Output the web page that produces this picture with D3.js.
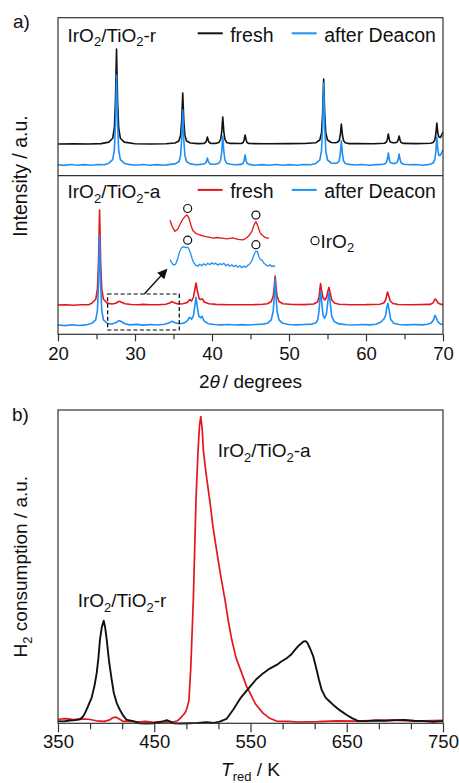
<!DOCTYPE html>
<html lang="en">
<head>
  <meta charset="UTF-8">
  <title>XRD and TPR of IrO2/TiO2</title>
  <style>
    body, html {
      margin: 0;
      padding: 0;
      background-color: #fff;
    }
    #svg text {
      font-family: "Liberation Sans", Arial, Helvetica, sans-serif;
      fill: #111;
    }
  </style>
</head>
<body>
  <svg id="svg" width="459" height="783"></svg>
  <script src="https://d3js.org/d3.v7.min.js"></script>
  <script>
    // XRD, rutile-supported catalyst: [2theta, intensity]
    const rFresh = [
      [20,0],[22,0.3],[24,0],[25.6,0.4],[26.6,1.9],[27.1,5.7],[27.32,16],[27.46,43],[27.6,95],[27.74,43],[27.88,16],[28.1,5.7],[28.6,1.9],
      [30,0.3],[32,0],[34,0.3],[35.2,1],[35.7,3],[35.92,8.7],[36.06,23],[36.2,51],[36.34,23],[36.48,8.7],[36.7,3],[37.2,1],
      [38.2,0.4],[38.9,0.5],[39.15,1.5],[39.27,3.2],[39.4,7],[39.53,3.2],[39.65,1.5],[39.9,0.5],
      [40.4,0.6],[40.9,1.6],[41.12,4.6],[41.26,12],[41.4,27],[41.54,12],[41.68,4.6],[41.9,1.6],[42.4,0.6],
      [43.8,0.5],[44.05,1.5],[44.17,4],[44.3,9],[44.43,4],[44.55,1.5],[44.8,0.5],
      [47,0.2],[50,0.4],[52,0.5],[53.5,1.3],[54.0,4],[54.22,11],[54.36,29],[54.5,65],[54.64,29],[54.78,11],[55.0,4],[55.5,1.5],
      [56.0,1.2],[56.3,1.8],[56.52,3.4],[56.66,9],[56.8,20],[56.94,9],[57.08,3.4],[57.3,1.2],[57.8,0.4],
      [59,0.5],[61,0.3],[62.4,0.8],[62.65,2],[62.77,4.5],[62.9,10],[63.03,4.5],[63.15,2],[63.5,1.2],
      [63.8,1.2],[64.05,2],[64.17,3.8],[64.3,8],[64.43,3.8],[64.55,1.6],[64.9,0.6],
      [66.5,0.4],[68.4,0.8],[68.7,1.5],[68.93,3.8],[69.06,9.5],[69.2,21],[69.34,10],[69.48,7],[69.65,6.5],[69.8,8.5],[70,12]
    ]
    const rDeacon = [
      [20,0.2],[20.8,-0.4],[21.6,0.5],[22.5,-0.2],[23.4,0.4],[24.3,-0.3],[25.2,0.5],[26.0,0.3],[26.6,1.8],[27.1,5.4],[27.32,15],[27.46,41],[27.6,90],[27.74,41],[27.88,15],[28.1,5.4],[28.6,1.8],
      [29.2,0.6],[30.1,-0.2],[31.0,0.5],[31.9,-0.3],[32.8,0.4],[33.7,-0.2],[34.6,0.6],[35.2,1.1],[35.7,3.3],[35.92,9.5],[36.06,25],[36.2,55],[36.34,25],[36.48,9.5],[36.7,3.3],[37.2,1.1],
      [37.9,0.3],[38.5,0.6],[38.9,1],[39.15,1.8],[39.27,3.4],[39.4,7],[39.53,3.4],[39.65,1.8],[39.9,0.8],
      [40.4,0.8],[40.9,1.8],[41.12,5],[41.26,13],[41.4,29],[41.54,13],[41.68,5],[41.9,1.8],[42.4,0.7],
      [43.0,0.2],[43.8,0.6],[44.05,1.8],[44.17,4.5],[44.3,10],[44.43,4.5],[44.55,1.8],[44.8,0.6],
      [45.6,-0.2],[46.5,0.4],[47.4,-0.3],[48.3,0.5],[49.2,-0.2],[50.1,0.4],[51.0,-0.3],[51.9,0.5],[52.8,0.2],
      [53.5,1.6],[54.0,5],[54.22,14],[54.36,37],[54.5,82],[54.64,37],[54.78,14],[55.0,5],[55.5,2],
      [56.0,1.6],[56.3,2.3],[56.52,4.2],[56.66,11],[56.8,24],[56.94,11],[57.08,4.2],[57.3,1.6],[57.8,0.6],
      [58.6,0],[59.5,0.5],[60.4,-0.2],[61.3,0.4],[62.0,0.6],[62.4,1],[62.65,2.4],[62.77,5.4],[62.9,12],[63.03,5.4],[63.15,2.4],[63.5,1.5],
      [63.8,1.6],[64.05,2.7],[64.17,5.2],[64.3,11],[64.43,5.2],[64.55,2.2],[64.9,0.8],
      [65.6,0.2],[66.5,0.5],[67.4,-0.2],[68.0,0.4],[68.4,1],[68.7,2],[68.93,5],[69.06,12.5],[69.2,28],[69.34,14],[69.48,9.5],[69.65,9.5],[69.8,12],[70,15]
    ]

    // XRD, anatase-supported catalyst
    const aFresh = [
      [20,0],[21,0.3],[22,-0.2],[23,0.3],[24,0.2],[24.4,1.9],[24.9,5.7],[25.12,16],[25.26,43],[25.4,95],[25.54,43],[25.68,16],[25.9,5.7],[26.4,1.9],
      [27.0,1],[27.5,1.8],[27.8,3.2],[28.0,3.8],[28.25,2.8],[28.7,1.2],[29.5,0.5],[30.5,0.3],[31.0,0.6],[32,0.2],[33,0.3],
      [34.0,0.8],[34.5,2],[34.8,3.4],[35.1,2.2],[35.6,1],[36.2,1.2],[36.8,2.5],[37.1,5.5],[37.35,4],[37.6,8],[37.78,16],[37.93,22],[38.1,14],[38.35,6],[38.55,5.5],[38.75,6.2],[39.0,3],[39.6,1.2],
      [40.5,0.6],[42,0.3],[44,0.2],[45.5,0.4],[46.6,0.8],[47.2,1.2],[47.7,3.5],[47.95,9],[48.08,18],[48.2,29],[48.32,18],[48.45,9],[48.7,3.5],[49.2,1.2],
      [50.5,0.5],[52,0.4],[53.2,1],[53.7,3],[53.9,8],[54.0,15],[54.1,21.5],[54.22,15],[54.4,7.5],[54.65,5],[54.9,8],[55.05,14],[55.2,17.7],[55.35,12],[55.55,5],[55.9,2],[56.5,0.8],
      [58,0.3],[60,0.4],[61.8,0.8],[62.3,2],[62.55,5],[62.7,10],[62.8,13],[62.95,9],[63.15,4],[63.5,1.5],[64.2,0.5],
      [66,0.3],[68.3,0.6],[68.7,2],[68.9,5],[69.0,6],[69.15,4.5],[69.4,1.8],[69.8,0.6],[70,0.4]
    ]
    const aDeacon = [
      [20,0.3],[20.9,-0.3],[21.8,0.5],[22.7,-0.2],[23.6,0.4],[24.4,2],[24.9,5.4],[25.12,15],[25.26,41],[25.4,90],[25.54,41],[25.68,15],[25.9,5.4],[26.4,1.8],
      [27.0,1.3],[27.5,2.5],[27.8,4.2],[28.0,4.6],[28.25,3.5],[28.7,1.5],[29.3,0.4],[30.2,0.9],[31.1,0.2],[32.0,0.8],[32.9,0.3],[33.8,1],
      [34.4,2.2],[34.8,4],[35.2,2.5],[35.7,1.5],[36.3,2],[36.8,4.5],[37.1,8],[37.35,6],[37.6,10],[37.78,20],[37.93,28],[38.08,19],[38.3,9],[38.55,7.5],[38.72,9],[38.95,4.5],[39.5,1.6],
      [40.3,0.8],[41.2,0.4],[42.1,0.8],[43.0,0.3],[43.9,0.7],[44.8,0.3],[45.7,0.8],[46.6,1.2],[47.2,2],[47.7,5.5],[47.95,14],[48.08,28],[48.2,46],[48.32,28],[48.45,14],[48.7,5.5],[49.2,2],
      [50,0.8],[51,0.4],[52,0.8],[53.0,1.2],[53.5,2.5],[53.75,6],[53.92,16],[54.02,26],[54.12,34],[54.24,24],[54.42,10],[54.62,7],[54.85,11],[55.02,22],[55.2,33],[55.35,23],[55.55,9],[55.9,3.5],[56.5,1.4],
      [57.5,0.6],[58.5,0.3],[59.5,0.8],[60.5,0.4],[61.3,1],[61.9,3],[62.3,6],[62.55,10],[62.7,18],[62.85,22],[63.0,15],[63.2,6],[63.6,2],[64.3,0.8],
      [65.3,0.4],[66.3,0.8],[67.3,0.4],[68.0,1],[68.5,2.5],[68.8,6],[68.95,10],[69.1,8],[69.35,3.5],[69.7,1.2],[70,0.8]
    ]

    // magnified 26-37 deg window of the anatase patterns
    const zoomFresh = [
      [26.24,18],[26.45,12],[26.74,7],[27.0,9],[27.25,14],[27.5,19],[27.75,22],[27.92,23.3],[28.1,21],[28.3,14],[28.5,8],[28.8,5],
      [29.2,3.3],[29.7,2],[30.2,1],[30.6,0.2],[30.9,0.8],[31.4,0.2],[31.9,-0.5],[32.5,0.5],[33.0,-1],[33.5,-1.5],[33.8,0],
      [34.1,2.5],[34.4,7],[34.6,13],[34.8,16.7],[35.0,12],[35.2,6],[35.4,3.3],[35.7,1],[36.1,0]
    ]
    const zoomDeacon = [
      [26.24,7.3],[26.4,4],[26.6,1.5],[26.8,2.5],[27.0,8],[27.2,15],[27.4,19],[27.6,20],[27.8,19],[28.0,19.5],[28.15,17],[28.3,13],[28.45,8],[28.6,4],[28.8,1.5],
      [29.0,0.5],[29.2,2.5],[29.4,1],[29.6,3],[29.8,1.5],[30.0,3.5],[30.2,2],[30.4,4],[30.6,2.5],[30.8,3.5],[31.0,1.5],[31.2,3],[31.4,2],[31.6,3.5],[31.8,1],
      [32.0,2.5],[32.2,0.5],[32.4,2],[32.6,0],[32.8,1.5],[33.0,-0.5],[33.2,1],[33.4,-1],[33.6,0.5],[33.8,-0.5],[34.0,1.5],[34.2,3],[34.4,6],[34.6,12],
      [34.8,15.5],[34.95,15],[35.1,10],[35.25,7],[35.4,6.5],[35.6,3.5],[35.8,2],[36.0,0.5],[36.2,2],[36.4,0],[36.6,1],[36.7,0]
    ]
    const iro2Peaks = [28.0, 34.8]

    // H2-TPR: [T / K, signal]
    const tprA = [
      [350,0.9],[358,1.1],[366,0.8],[374,1.0],[382,0.9],[390,0.4],[398,0.2],[403,0.6],[407,1.4],[410,1.6],[414,0.9],[418,0.2],
      [425,0.3],[433,0],[441,0.2],[449,-0.1],[457,0.1],[465,0],[470,0],[474,0.4],[477,1.2],[480,2.3],[482,3],[484,4.5],[486,7],[488,18],
      [490.6,40],[493.4,73],[495.5,89],[497,97],[498.3,100],[499.8,96],[501,89],[504,81],[507.9,72],[511,64],[514.9,56],[519,48],[523.5,40],
      [527,33],[530.5,27],[535,21],[540.9,16],[546,11.6],[549.5,9.5],[555,6],[563,2.9],[570,1.2],[577,0.3],[590,0.2],[600,0],
      [620,0.1],[640,0.4],[660,0.3],[680,0.5],[700,0.6],[720,0.3],[750,0.5]
    ]
    const tprR = [
      [350,0.3],[356,0.2],[362,0.5],[368,0.6],[373,0.9],[376,1.8],[378,2.9],[381,5],[385,8],[388,12],[390.2,16],[392,21],[393.6,27],[395.5,31],
      [397.5,33.2],[399,31],[400.6,27],[403,20],[405.8,13.8],[408,9.5],[411,6.2],[414.4,3.9],[418,2],[421,0.8],[428,0.3],[435,-0.4],[442,-0.5],
      [449,-0.4],[455,-0.1],[460,0.3],[463,0.6],[466,0.2],[470,-0.4],[478,-0.5],[487,-0.4],[495,-0.3],[504.5,-0.1],[512,-0.3],[518,0.1],
      [525,1],[532,4],[540,8],[549.5,11.6],[556,14],[563.3,16],[570,17.5],[577.2,18.7],[582,19.8],[587.6,20.9],[592,22],[596.2,23.6],[600,25],
      [604.8,26.3],[607,26.5],[609,26],[612,24],[615.3,21.4],[618,18],[621,14],[624,10.5],[628,8],[632,6.8],[636,5.6],[643,3.8],[650,2.3],
      [656,1.2],[662,0.3],[670,0.3],[680,0.5],[690,0.4],[700,0.6],[710,0.7],[720,0.4],[730,0.3],[740,0.1],[750,0.3]
    ]

    const xTicksA = [20, 30, 40, 50, 60, 70]
    const xTicksB = [350, 450, 550, 650, 750]

    const black = '#111'
    const blue = '#1e8ff5'
    const red = '#e3171d'
    const frameColor = '#333'

    const svg = d3.select('#svg')

    // ---------- panel a ----------
    const left = 58, right = 443
    const aTop = 17.7, aMid = 175.7, aBot = 334.3
    const xA = d3.scaleLinear().domain([20, 70]).range([left, right])
    const yUpper = d3.scaleLinear().domain([0, aMid - aTop]).range([aMid, aTop])
    const yLower = d3.scaleLinear().domain([0, aBot - aMid]).range([aBot, aMid])

    const lineA = (y, off) => d3.line().x(d => xA(d[0])).y(d => y(d[1] + off))

    function trace(data, gen, color, w) {
      svg.append('path')
        .datum(data)
        .attr('d', gen)
        .attr('fill', 'none')
        .attr('stroke', color)
        .attr('stroke-width', w || 1.6)
        .attr('stroke-linejoin', 'round')
    }

    trace(rFresh, lineA(yUpper, 31.7), black)
    trace(rDeacon, lineA(yUpper, 10.7), blue)
    trace(aFresh, lineA(yLower, 29.3), red)
    trace(aDeacon, lineA(yLower, 9), blue)

    // inset with the magnified IrO2 reflections
    const xIn = d3.scaleLinear().domain([26.24, 36.7]).range([170, 275])
    const lineIn = off => d3.line().x(d => xIn(d[0])).y(d => yLower(d[1] + off))
    trace(zoomFresh, lineIn(96), red, 1.3)
    trace(zoomDeacon, lineIn(67.6), blue, 1.3)

    const markerY = (data, pos, off) => {
      const near = data.filter(d => Math.abs(d[0] - pos) < 0.45)
      return yLower(d3.max(near, d => d[1]) + off) - 6.5
    }
    ;[[zoomFresh, 96], [zoomDeacon, 67.6]].forEach(([data, off]) => {
      svg.selectAll(null)
        .data(iro2Peaks)
        .enter()
        .append('circle')
        .attr('cx', d => xIn(d))
        .attr('cy', d => markerY(data, d, off))
        .attr('r', 4)
        .attr('fill', '#fff')
        .attr('stroke', black)
        .attr('stroke-width', 1.2)
    })

    // dashed box over the magnified range and the arrow to the inset
    svg.append('rect')
      .attr('x', xA(26.45))
      .attr('y', 294)
      .attr('width', xA(35.75) - xA(26.45))
      .attr('height', 36)
      .attr('fill', 'none')
      .attr('stroke', '#000')
      .attr('stroke-width', 1.2)
      .attr('stroke-dasharray', '4,2.5')

    svg.append('defs').append('marker')
      .attr('id', 'head')
      .attr('viewBox', '0 0 10 10')
      .attr('refX', 9)
      .attr('refY', 5)
      .attr('markerWidth', 7)
      .attr('markerHeight', 7)
      .attr('orient', 'auto')
      .append('path')
      .attr('d', 'M0,0 L10,5 L0,10 z')
      .attr('fill', black)

    svg.append('line')
      .attr('x1', 144.3).attr('y1', 294)
      .attr('x2', 166.7).attr('y2', 269.5)
      .attr('stroke', black)
      .attr('stroke-width', 1.4)
      .attr('marker-end', 'url(#head)')

    // frame of panel a
    svg.append('rect')
      .attr('x', left).attr('y', aTop)
      .attr('width', right - left).attr('height', aBot - aTop)
      .attr('fill', 'none').attr('stroke', frameColor).attr('stroke-width', 1.2)
    svg.append('line')
      .attr('x1', left).attr('x2', right)
      .attr('y1', aMid).attr('y2', aMid)
      .attr('stroke', frameColor).attr('stroke-width', 1.2)

    function bottomAxis(scale, y, major, minor, bigTick, smallTick, pad) {
      const gMinor = svg.append('g')
        .attr('transform', `translate(0, ${y})`)
        .call(d3.axisBottom(scale).tickValues(minor).tickSize(smallTick).tickSizeOuter(0).tickFormat(''))
      const gMajor = svg.append('g')
        .attr('transform', `translate(0, ${y})`)
        .call(d3.axisBottom(scale).tickValues(major).tickSize(bigTick).tickSizeOuter(0).tickPadding(pad))
      ;[gMinor, gMajor].forEach(g => {
        g.select('.domain').remove()
        g.selectAll('line').attr('stroke', frameColor).attr('stroke-width', 1.2)
      })
      gMajor.selectAll('text')
        .style('font-size', '18.5px')
        .style('font-family', '"Liberation Sans", Arial, sans-serif')
        .attr('fill', '#111')
    }

    bottomAxis(xA, aBot, xTicksA, [25, 35, 45, 55, 65], 7, 5, 5.2)

    // formula text with subscripts: odd entries are subscripts
    function formula(x, y, parts, size) {
      const t = svg.append('text').attr('x', x).attr('y', y).style('font-size', size + 'px')
      parts.forEach((p, i) => {
        const sub = i % 2 === 1
        const ts = t.append('tspan').text(p)
        if (sub) ts.attr('dy', 4.5).style('font-size', Math.round(size * 0.66) + 'px')
        else if (i > 0) ts.attr('dy', -4.5)
      })
      return t
    }

    function legendEntry(x, y, color, label) {
      svg.append('line')
        .attr('x1', x).attr('x2', x + 25)
        .attr('y1', y - 8.4).attr('y2', y - 8.4)
        .attr('stroke', color).attr('stroke-width', 2)
      svg.append('text')
        .attr('x', x + 32.5).attr('y', y)
        .style('font-size', '19.5px')
        .text(label)
    }

    formula(67.5, 41.7, ['IrO', '2', '/TiO', '2', '-r'], 19)
    legendEntry(197.7, 41.7, black, 'fresh')
    legendEntry(291.7, 41.7, blue, 'after Deacon')

    formula(67.5, 198.3, ['IrO', '2', '/TiO', '2', '-a'], 19)
    legendEntry(197.7, 198.3, red, 'fresh')
    legendEntry(291.7, 198.3, blue, 'after Deacon')

    svg.append('circle')
      .attr('cx', 315).attr('cy', 240.7).attr('r', 4)
      .attr('fill', '#fff').attr('stroke', black).attr('stroke-width', 1.2)
    formula(320.5, 247.5, ['IrO', '2'], 19)

    svg.append('text')
      .attr('x', 13).attr('y', 28)
      .style('font-size', '19px')
      .text('a)')

    svg.append('text')
      .attr('transform', `translate(27, ${(aTop + aBot) / 2}) rotate(-90)`)
      .attr('text-anchor', 'middle')
      .style('font-size', '19.5px')
      .text('Intensity / a.u.')

    const xTitleA = svg.append('text')
      .attr('x', (left + right) / 2).attr('y', 387.5)
      .attr('text-anchor', 'middle')
      .style('font-size', '19px')
    xTitleA.append('tspan').text('2')
    xTitleA.append('tspan').style('font-style', 'italic').text('θ')
    xTitleA.append('tspan').text('/ degrees').attr('dx', 3)

    // ---------- panel b ----------
    const bTop = 410, bBot = 723.3
    const xB = d3.scaleLinear().domain([350, 750]).range([left, right])
    const yB = d3.scaleLinear().domain([0, 100]).range([722, 416.7])
    const lineB = d3.line().x(d => xB(d[0])).y(d => yB(d[1]))

    trace(tprA, lineB, red, 1.7)
    trace(tprR, lineB, black, 1.9)

    svg.append('rect')
      .attr('x', left).attr('y', bTop)
      .attr('width', right - left).attr('height', bBot - bTop)
      .attr('fill', 'none').attr('stroke', frameColor).attr('stroke-width', 1.2)

    const minorB = d3.range(0, 13).map(i => 350 + i * 100 / 3).filter(v => (v - 350) % 100 > 1)
    bottomAxis(xB, bBot, xTicksB, minorB, 9, 6, 3)

    formula(217.7, 457.3, ['IrO', '2', '/TiO', '2', '-a'], 19)
    formula(77.7, 607.3, ['IrO', '2', '/TiO', '2', '-r'], 19)

    svg.append('text')
      .attr('x', 12).attr('y', 421)
      .style('font-size', '19px')
      .text('b)')

    const yTitleB = svg.append('text')
      .attr('transform', `translate(27, ${(bTop + bBot) / 2}) rotate(-90)`)
      .attr('text-anchor', 'middle')
      .style('font-size', '19px')
    yTitleB.append('tspan').text('H')
    yTitleB.append('tspan').text('2').attr('dy', 4.5).style('font-size', '13px')
    yTitleB.append('tspan').text(' consumption / a.u.').attr('dy', -4.5)

    const xTitleB = svg.append('text')
      .attr('x', (left + right) / 2).attr('y', 776)
      .attr('text-anchor', 'middle')
      .style('font-size', '19px')
    xTitleB.append('tspan').style('font-style', 'italic').text('T')
    xTitleB.append('tspan').text('red').attr('dy', 4.5).style('font-size', '13px')
    xTitleB.append('tspan').text(' / K').attr('dy', -4.5)
  </script>
</body>
</html>
